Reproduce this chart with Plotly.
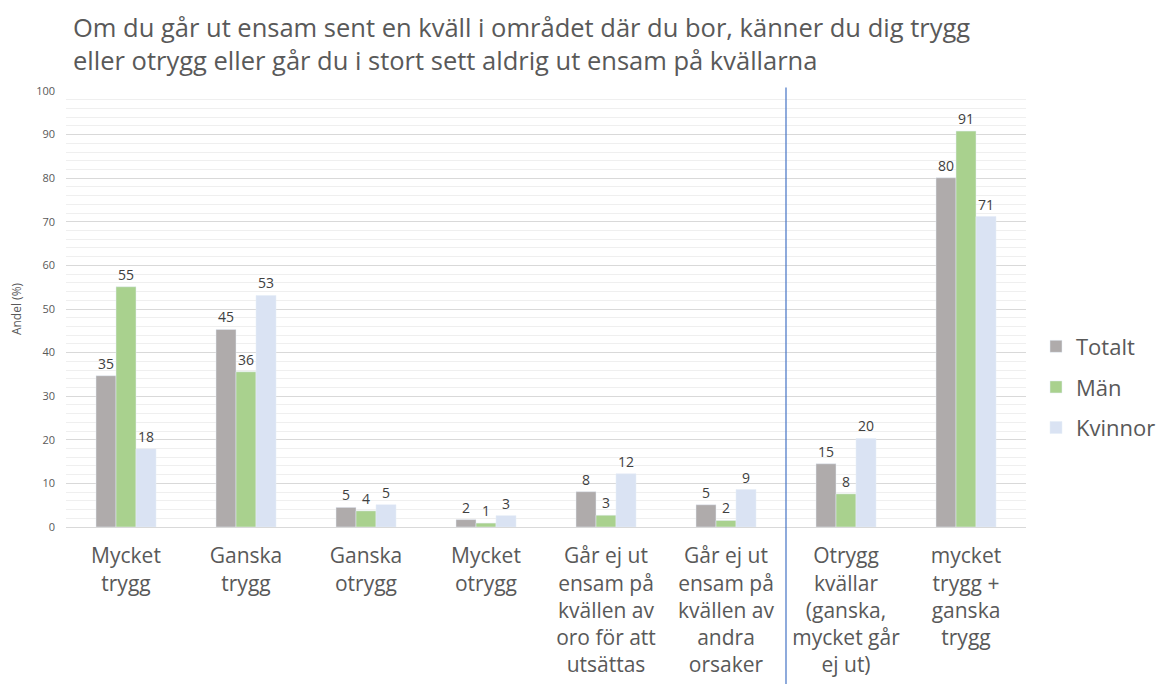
import math
import plotly.graph_objects as go

categories = [
    "Mycket<br>trygg",
    "Ganska<br>trygg",
    "Ganska<br>otrygg",
    "Mycket<br>otrygg",
    "Går ej ut<br>ensam på<br>kvällen av<br>oro för att<br>utsättas",
    "Går ej ut<br>ensam på<br>kvällen av<br>andra<br>orsaker",
    "Otrygg<br>kvällar<br>(ganska,<br>mycket går<br>ej ut)",
    "mycket<br>trygg +<br>ganska<br>trygg",
]
totalt = [34.7, 45.3, 4.5, 1.7, 8.1, 5.1, 14.5, 80.1]
man = [55.1, 35.6, 3.7, 0.9, 2.7, 1.5, 7.6, 90.8]
kvinnor = [17.9, 53.1, 5.1, 2.6, 12.2, 8.6, 20.3, 71.2]

title_text = ("Om du går ut ensam sent en kväll i området där du bor, känner du dig trygg<br>"
              "eller otrygg eller går du i stort sett aldrig ut ensam på kvällarna")

series = [("Totalt", totalt, "#AFABAB"), ("Män", man, "#A9D18E"), ("Kvinnor", kvinnor, "#DAE3F3")]

x_idx = list(range(len(categories)))

fig = go.Figure()
for name, vals, col in series:
    fig.add_trace(go.Bar(
        name=name, x=x_idx, y=vals, marker_color=col, legendgroup=name,
        text=[str(int(math.floor(v + 0.5))) for v in vals],
        textposition="outside", cliponaxis=False,
        textfont=dict(size=14, color="#404040"),
    ))

fig.add_shape(type="line", xref="x", yref="paper", x0=5.5, x1=5.5, y0=-0.37, y1=1.008,
              line=dict(color="#4472C4", width=1.2))

fig.add_annotation(
    text=title_text, xref="paper", yref="paper", x=0.005, y=1.19,
    xanchor="left", yanchor="top", align="left", showarrow=False,
    font=dict(size=25.5, color="#595959"),
)

fig.update_layout(
    width=1166, height=684,
    paper_bgcolor="white", plot_bgcolor="white",
    font=dict(family="Open Sans, sans-serif", color="#595959"),
    margin=dict(l=58, r=148, t=83, b=165),
    barmode="group", bargap=0.5, bargroupgap=0,
    legend=dict(xref="container", x=1028/1166, xanchor="left", y=0.321, yanchor="middle",
                font=dict(size=22, color="#595959"), itemwidth=30,
                tracegroupgap=9),
    uniformtext=dict(mode=False),
)
fig.update_xaxes(
    tickmode="array", tickvals=x_idx, ticktext=categories, automargin=False,
    range=[-0.5, 7.5], showgrid=False, showline=True, linecolor="#d9d9d9",
    tickfont=dict(size=21, color="#595959"), ticks="", ticklabelstandoff=10,
)
fig.update_yaxes(
    range=[0, 100], dtick=10, showgrid=True, gridcolor="#d9d9d9", gridwidth=1,
    minor=dict(dtick=2, showgrid=True, gridcolor="#efefef", gridwidth=1),
    tickfont=dict(size=11, color="#595959"), zeroline=False, automargin=False,
    ticks="", ticklabelstandoff=10,
    title=dict(text="Andel (%)", font=dict(size=12, color="#595959"), standoff=14),
)

fig.write_html("out.html")
